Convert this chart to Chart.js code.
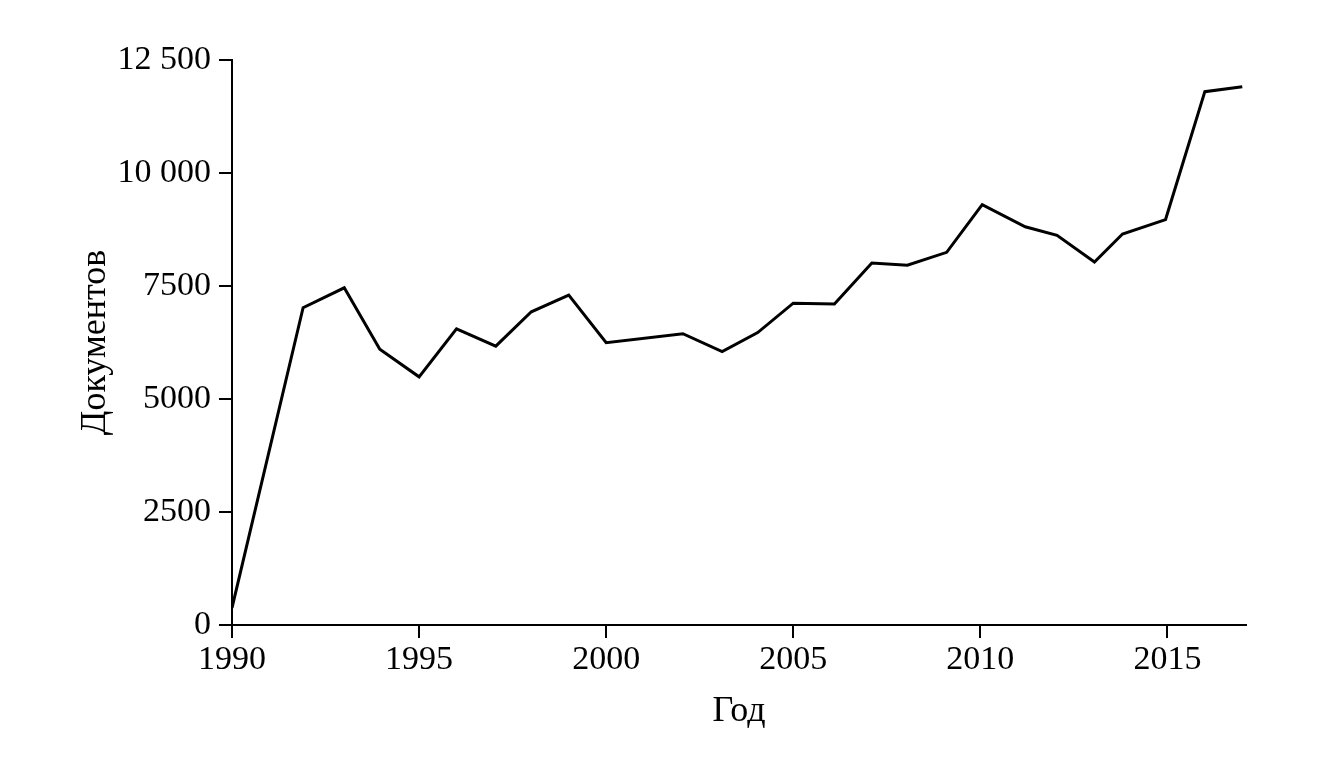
<!DOCTYPE html>
<html lang="ru">
<head>
<meta charset="utf-8">
<title>Документов по годам</title>
<script src="https://cdn.jsdelivr.net/npm/chart.js@4/dist/chart.umd.min.js"></script>
<style>
  html, body { margin: 0; padding: 0; background: #fff; }
  #chart { display: block; }
</style>
</head>
<body>
<canvas id="chart" width="1336" height="758"></canvas>
<script>
// values
const years = [1990, 1991.9, 1993, 1993.95, 1995, 1996, 1997.05, 1998, 1999, 2000,
    2002.05, 2003.1, 2004.05, 2005, 2006.1, 2007.1, 2008.05, 2009.1, 2010.05,
    2011.2, 2012.05, 2013.05, 2013.8, 2014.95, 2016, 2017];
const documents = [380, 7020, 7460, 6100, 5490, 6550, 6170, 6930, 7300, 6245,
    6445, 6050, 6470, 7120, 7100, 8010, 7960, 8245, 9300,
    8810, 8620, 8030, 8650, 8970, 11800, 11910];
const yTicks = [0, 2500, 5000, 7500, 10000, 12500];

const FONT = 'Liberation Serif, Times New Roman, serif';

function formatThousands(v) {
    // "12 500" / "10 000", but "7500" like the original
    if (v >= 10000) return String(v).replace(/\B(?=(\d{3})+(?!\d))/g, ' ');
    return String(v);
}

document.addEventListener('DOMContentLoaded', function() {
    const ctx = document.getElementById('chart');

    new Chart(ctx, {
        type: 'line',
        data: {
            datasets: [{
                label: 'Документов',
                data: years.map((y, i) => ({ x: y, y: documents[i] })),
                borderColor: '#000',
                borderWidth: 3,
                pointRadius: 0,
                tension: 0,
                fill: false
            }]
        },
        options: {
            responsive: false,
            animation: false,
            layout: {
                padding: { left: 0, right: 90, top: 60, bottom: 0 }
            },
            plugins: {
                legend: { display: false },
                tooltip: { enabled: false }
            },
            scales: {
                x: {
                    type: 'linear',
                    min: 1990,
                    max: 2017.1,
                    afterFit: function(scale) { scale.height = 133; },
                    grid: {
                        drawOnChartArea: false,
                        drawTicks: true,
                        tickLength: 13,
                        color: '#000',
                        lineWidth: 2
                    },
                    border: { color: '#000', width: 2 },
                    ticks: {
                        stepSize: 5,
                        includeBounds: false,
                        maxRotation: 0,
                        padding: 2,
                        color: '#000',
                        font: { family: FONT, size: 34 },
                        callback: v => String(v)
                    },
                    title: {
                        display: true,
                        text: 'Год',
                        color: '#000',
                        font: { family: FONT, size: 36 },
                        padding: { top: 0, bottom: 25 }
                    }
                },
                y: {
                    min: 0,
                    max: 12500,
                    afterFit: function(scale) { scale.width = 232; },
                    afterBuildTicks: function(scale) {
                        scale.ticks = yTicks.map(v => ({ value: v }));
                    },
                    grid: {
                        drawOnChartArea: false,
                        drawTicks: true,
                        tickLength: 13,
                        color: '#000',
                        lineWidth: 2
                    },
                    border: { color: '#000', width: 2 },
                    ticks: {
                        padding: 8,
                        color: '#000',
                        font: { family: FONT, size: 34 },
                        callback: v => formatThousands(v)
                    },
                    title: {
                        display: true,
                        text: 'Документов',
                        color: '#000',
                        font: { family: FONT, size: 36 },
                        padding: { top: 74, bottom: 0 }
                    }
                }
            }
        }
    });
});
</script>
</body>
</html>
